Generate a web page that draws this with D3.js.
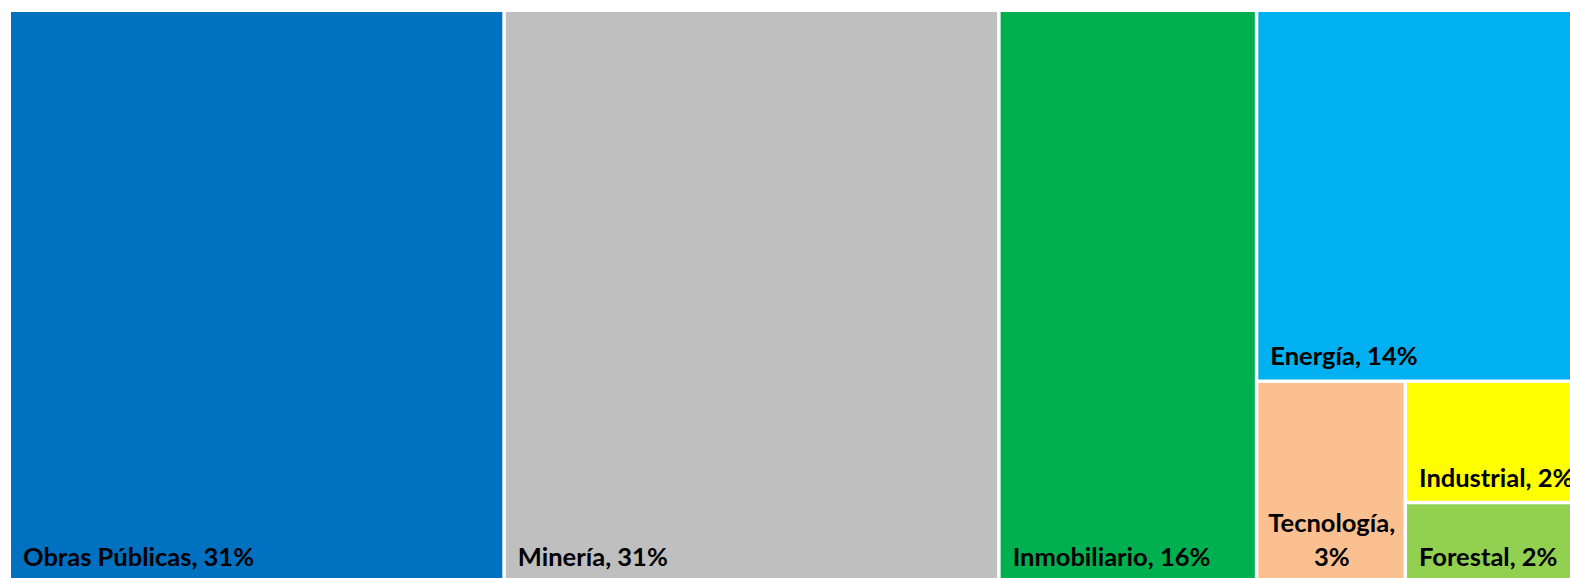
<!DOCTYPE html>
<html>
<head>
<meta charset="utf-8">
<script src="https://cdn.jsdelivr.net/npm/d3@7"></script>
<style>
  html, body { margin: 0; padding: 0; background: #fff; overflow: hidden; }
  text { font-family: Lato, "Noto Sans", sans-serif; font-weight: bold; }
</style>
</head>
<body>
<div id="chart"></div>
<script>
// sectors and their share
const categories = ["Obras Públicas", "Minería", "Inmobiliario", "Energía", "Tecnología", "Industrial", "Forestal"];
const values = [31.3, 31.3, 16.3, 13.6, 3.3, 2.45, 1.6];
const colors = ["#0070C0", "#BFBFBF", "#00B050", "#00B0F0", "#FAC090", "#FFFF00", "#92D050"];

const svgW = 1570, svgH = 578;
const margin = {left: 11, top: 12};
const width = 1575, height = 568;

const total = d3.sum(values);

// first three sit side by side, the rest are nested (excel-like layout)
function leaf(i) { return {name: categories[i], value: values[i], color: colors[i]}; }
function nest(i) {
  if (i === categories.length - 1) return leaf(i);
  return {children: [leaf(i), nest(i + 1)]};
}
const data = {children: [leaf(0), leaf(1), leaf(2), nest(3)]};

const root = d3.hierarchy(data).sum(d => d.value || 0);

d3.treemap()
  .tile(d3.treemapSliceDice)
  .size([width, height])
  .paddingInner(3.5)
  .round(false)(root);

const svg = d3.select("#chart")
  .append("svg")
  .attr("width", svgW)
  .attr("height", svgH);

const g = svg.append("g")
  .attr("transform", "translate(" + margin.left + "," + margin.top + ")");

const cells = g.selectAll("g.cell")
  .data(root.leaves())
  .enter()
  .append("g")
  .attr("class", "cell")
  .attr("transform", d => "translate(" + d.x0 + "," + d.y0 + ")");

cells.append("rect")
  .attr("width", d => d.x1 - d.x0)
  .attr("height", d => d.y1 - d.y0)
  .attr("fill", d => d.data.color);

const fontSize = 25.5;
const padX = 12, padB = 14, lineH = 34;

cells.each(function(d) {
  const cell = d3.select(this);
  const w = d.x1 - d.x0, h = d.y1 - d.y0;
  const pct = Math.round(d.data.value / total * 100) + "%";
  const full = d.data.name + ", " + pct;

  const t = cell.append("text")
    .attr("x", padX)
    .attr("y", h - padB)
    .attr("font-size", fontSize)
    .attr("fill", "#000")
    .text(full);

  // wrap into two centred lines when it doesn't fit the box
  const tw = t.node().getComputedTextLength();
  if (tw > w - 2 * padX + 40 && w < 200) {
    t.remove();
    const lines = [d.data.name + ",", pct];
    const tmp = cell.append("text").attr("font-size", fontSize).text(lines[0]);
    const lw = tmp.node().getComputedTextLength();
    tmp.remove();
    const cx = padX - 2 + lw / 2;
    lines.forEach((ln, i) => {
      cell.append("text")
        .attr("x", cx)
        .attr("y", h - padB - (lines.length - 1 - i) * lineH)
        .attr("text-anchor", "middle")
        .attr("font-size", fontSize)
        .attr("fill", "#000")
        .text(ln);
    });
  }
});
</script>
</body>
</html>
